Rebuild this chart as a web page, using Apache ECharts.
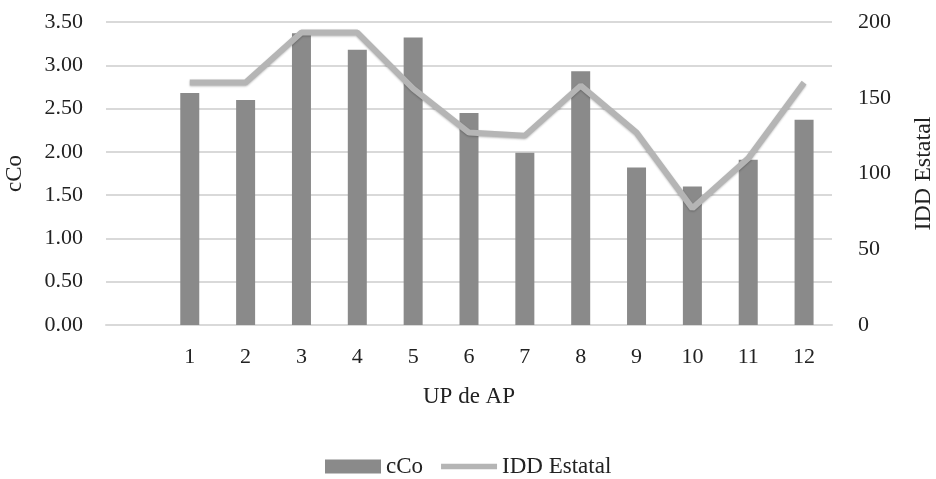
<!DOCTYPE html>
<html>
<head>
<meta charset="utf-8">
<script src="https://cdn.jsdelivr.net/npm/echarts@6/dist/echarts.min.js"></script>
<style>
html,body{margin:0;padding:0;background:#fff;}
#chart{width:936px;height:479px;}
</style>
</head>
<body>
<div id="chart"></div>
<script>
const categories = ['1','2','3','4','5','6','7','8','9','10','11','12'];
const cCo = [2.68, 2.60, 3.37, 3.18, 3.32, 2.45, 1.99, 2.93, 1.82, 1.60, 1.91, 2.37];
const iddEstatal = [160, 160, 193, 193, 156, 127, 125, 158, 127, 77, 110, 160];
const leftTicks = {min: 0, max: 3.5, interval: 0.5};
const rightTicks = {min: 0, max: 200, interval: 50};

const font = '"Liberation Serif", "DejaVu Serif", serif';
const textColor = '#222';
const tickSize = 22;
const nameSize = 23;

const chart = echarts.init(document.getElementById('chart'));
chart.setOption({
  backgroundColor: '#fff',
  animation: false,
  textStyle: {fontFamily: font},
  grid: {left: 106, right: 104, top: 22, bottom: 154, containLabel: false, outerBoundsMode: 'none'},
  legend: {
    top: 455,
    left: 325,
    itemWidth: 56,
    itemHeight: 14,
    itemGap: 18,
    padding: 0,
    textStyle: {fontFamily: font, fontSize: nameSize, color: textColor},
    data: [
      {name: 'cCo', icon: 'rect'},
      {name: 'IDD Estatal', icon: 'path://M0,0H60V6H0Z'}
    ]
  },
  xAxis: {
    type: 'category',
    data: [''].concat(categories),
    name: 'UP de AP',
    nameLocation: 'middle',
    nameGap: 60,
    nameTextStyle: {fontFamily: font, fontSize: nameSize, color: textColor},
    axisLine: {show: true, lineStyle: {color: '#d9d9d9', width: 2}},
    axisTick: {show: false},
    axisLabel: {fontFamily: font, fontSize: tickSize, color: textColor, margin: 21},
    splitLine: {show: false}
  },
  yAxis: [
    {
      type: 'value',
      min: leftTicks.min, max: leftTicks.max, interval: leftTicks.interval,
      name: 'cCo',
      nameLocation: 'middle',
      nameGap: 80,
      nameRotate: 90,
      nameTextStyle: {fontFamily: font, fontSize: nameSize, color: textColor},
      axisLine: {show: false},
      axisTick: {show: false},
      axisLabel: {fontFamily: font, fontSize: tickSize, color: textColor, margin: 23,
        formatter: v => v.toFixed(2)},
      splitLine: {show: true, lineStyle: {color: '#d9d9d9', width: 2}}
    },
    {
      type: 'value',
      min: rightTicks.min, max: rightTicks.max, interval: rightTicks.interval,
      name: 'IDD Estatal',
      nameLocation: 'middle',
      nameGap: 80,
      nameRotate: 90,
      nameTextStyle: {fontFamily: font, fontSize: nameSize + 1, color: textColor},
      axisLine: {show: false},
      axisTick: {show: false},
      axisLabel: {fontFamily: font, fontSize: tickSize, color: textColor, margin: 26},
      splitLine: {show: false}
    }
  ],
  series: [
    {
      name: 'cCo',
      type: 'bar',
      yAxisIndex: 0,
      data: [null].concat(cCo),
      barWidth: 19,
      itemStyle: {color: '#8a8a8a'}
    },
    {
      name: 'IDD Estatal',
      type: 'line',
      yAxisIndex: 1,
      data: [null].concat(iddEstatal),
      symbol: 'none',
      showSymbol: false,
      lineStyle: {color: '#b5b5b5', width: 6, shadowColor: 'rgba(0,0,0,0.25)', shadowBlur: 2, shadowOffsetY: 1},
      itemStyle: {color: '#b5b5b5'}
    }
  ]
});
</script>
</body>
</html>
